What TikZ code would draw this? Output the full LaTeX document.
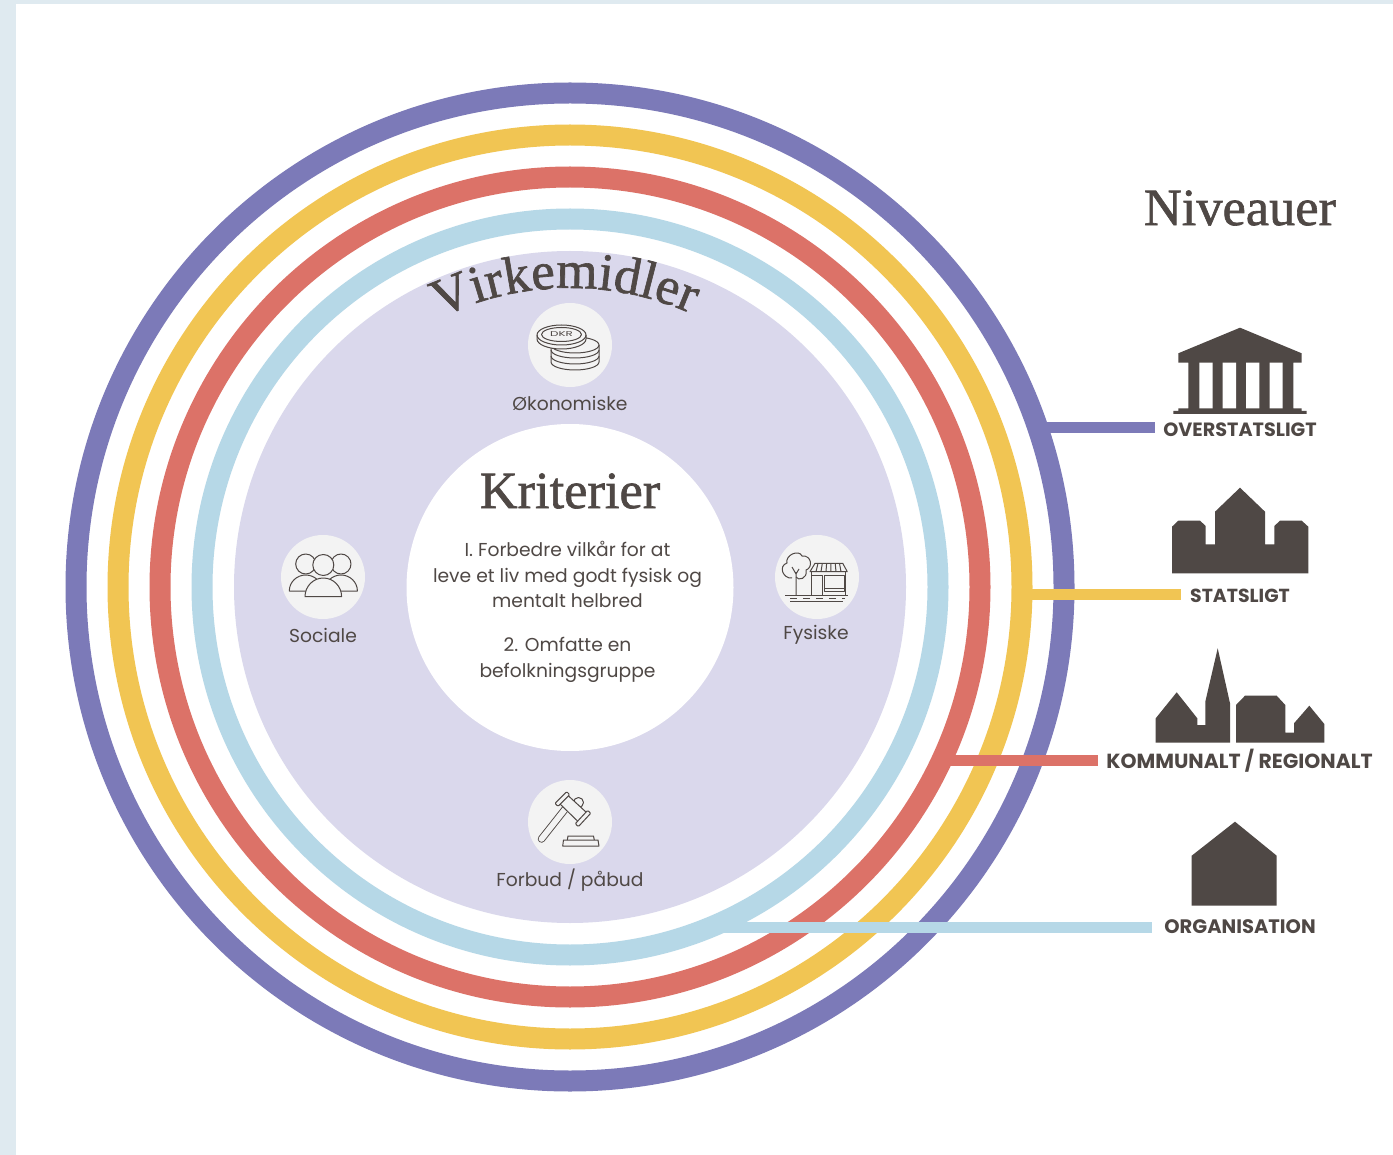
\documentclass[tikz,border=0pt]{standalone}
\usepackage{fontspec}
\setmainfont{Poppins}
\newfontfamily\serifd[FakeBold=1.2]{Liberation Serif}
\usetikzlibrary{decorations.text}
\definecolor{cpurple}{HTML}{7C7AB8}
\definecolor{cyellow}{HTML}{F1C553}
\definecolor{cred}{HTML}{DC7268}
\definecolor{cblue}{HTML}{B6D8E7}
\definecolor{clav}{HTML}{DAD8EC}
\definecolor{cdark}{HTML}{4F4845}
\definecolor{cstrip}{HTML}{DFEAF0}
\definecolor{cicon}{HTML}{F3F3F3}
\newcommand{\bodysize}{\fontsize{18.7}{25.5}\selectfont}
\tikzset{
  ringline/.style={line width=21pt},
  conn/.style={line width=11pt},
  body/.style={text=cdark,font=\bodysize,align=center,inner sep=0pt},
  lvl/.style={text=cdark,inner ysep=0pt,inner xsep=8pt},
  disp/.style={text=cdark,inner sep=0pt},
  iconbg/.style={circle,fill=cicon,minimum size=84pt,inner sep=0pt},
  ico/.style={draw=cdark,line width=1pt,line join=round},
  bld/.style={fill=cdark,draw=none},
}
\begin{document}
\begin{tikzpicture}[x=1pt,y=-1pt]
\useasboundingbox (0,0) rectangle (1393,1155);
\fill[white] (0,0) rectangle (1393,1155);
\fill[cstrip] (0,0) rectangle (1393,4);
\fill[cstrip] (0,0) rectangle (16,1155);
% rings
\coordinate (c) at (570,587);
\draw[ringline,cpurple] (c) circle (494);
\draw[ringline,cyellow] (c) circle (452);
\draw[ringline,cred] (c) circle (410);
\draw[ringline,cblue] (c) circle (368);
\fill[clav] (c) circle (336);
\node[circle,fill=white,minimum size=327pt,inner sep=0pt] (centre) at (570,587.5) {};
% level labels
\node[lvl,font=\fontsize{19.2}{24}\selectfont\bfseries] (lO) at (1240,430) {OVERSTATSLIGT};
\node[lvl,inner xsep=9pt,font=\fontsize{18.9}{24}\selectfont\bfseries] (lS) at (1240,595.5) {STATSLIGT};
\node[lvl,font=\fontsize{20.4}{24}\selectfont\bfseries] (lK) at (1239.5,761) {KOMMUNALT / REGIONALT};
\node[lvl,inner xsep=12pt,font=\fontsize{19.5}{24}\selectfont\bfseries] (lG) at (1240,927) {ORGANISATION};
% connectors
\coordinate (sO) at (1040,428);
\coordinate (sS) at (1022,594);
\coordinate (sK) at (945,760);
\coordinate (sG) at (712,927);
\draw[conn,cpurple] (sO) -- (sO -| lO.west);
\draw[conn,cyellow] (sS) -- (sS -| lS.west);
\draw[conn,cred] (sK) -- (sK -| lK.west);
\draw[conn,cblue] (sG) -- (sG -| lG.west);
% titles
\node[disp,font=\serifd\fontsize{52.4}{52}\selectfont] (niv) at (1240,208) {Niveauer};
\node[disp,font=\serifd\fontsize{52.4}{52}\selectfont] (kri) at (570,491) {Kriterier};
\path[decorate,decoration={text along path,text align=center,text color=cdark,
  text={|\serifd\fontsize{53}{53}\selectfont|Virkemidler}}]
  (c) ++(-119:299) arc[start angle=-119,end angle=-63,radius=299];
% centre text
\node[body] (t1) at (567.5,574.5) {I. Forbedre vilkår for at\\leve et liv med godt fysisk og\\mentalt helbred};
\node[body] (t2) at (567.5,660) {2. Omfatte en\\befolkningsgruppe};
% icon backgrounds
\node[iconbg] (iO) at (570,345) {};
\node[iconbg] (iS) at (323,577) {};
\node[iconbg] (iF) at (817,577) {};
\node[iconbg] (iB) at (570,822) {};
\node[body] (nO) at (570,403) {Økonomiske};
\node[body] (nS) at (323,635.5) {Sociale};
\node[body] (nF) at (816,635) {Fysiske};
\node[body] (nB) at (570,880.5) {Forbud / påbud};
% coins
\draw[ico,fill=cicon] (551,345) -- (551,362) arc[start angle=180,end angle=0,x radius=24,y radius=8] -- (599,345) arc[start angle=0,end angle=-180,x radius=24,y radius=8] -- cycle;
\foreach \yy in {345,350,356} \draw[ico] (551,\yy) arc[start angle=180,end angle=0,x radius=24,y radius=8];
\draw[ico,fill=cicon] (537,335) -- (537,339) arc[start angle=180,end angle=0,x radius=24.5,y radius=10] -- (586,335) arc[start angle=0,end angle=-180,x radius=24.5,y radius=10] -- cycle;
\draw[ico] (537,335) arc[start angle=180,end angle=0,x radius=24.5,y radius=10];
\draw[ico] (561.5,334.5) ellipse[x radius=20,y radius=7];
\node[text=cdark,font=\fontsize{7}{7}\selectfont,inner sep=0pt,transform shape,xscale=1.7] (dkr) at (561.5,334.5) {DKR};
% people
\draw[ico] (305.7,564) circle (10) (341,564) circle (10);
\draw[ico,fill=cicon] (289.3,591) arc[start angle=180,end angle=360,x radius=16.4,y radius=16] -- cycle;
\draw[ico,fill=cicon] (324.6,591) arc[start angle=180,end angle=360,x radius=16.4,y radius=16] -- cycle;
\draw[ico,fill=cicon] (323.3,565) circle (10.5);
\draw[ico,fill=cicon] (305,596.7) arc[start angle=180,end angle=360,x radius=18.3,y radius=18.7] -- cycle;
% shop
\draw[ico] (796,595) -- (796,572) (792,567) -- (796,574) -- (799,569);
\draw[ico] (792,578) .. controls (783,579) and (778,566) .. (787,563) .. controls (785,555) and (799,549) .. (802,556) .. controls (812,555) and (813,568) .. (806,570) .. controls (808,579) and (798,581) .. (796,577);
\draw[ico] (785,595) -- (848.3,595);
\draw[ico] (790,601) -- (843,601);
\draw[ico,dash pattern=on 7pt off 6pt] (790,598.2) -- (845,598.2);
\draw[ico] (811.7,571.7) -- (811.7,595) (845,571.7) -- (845,595);
\draw[ico] (810,571.7) -- (815,563.3) -- (842.7,563.3) -- (847.3,571.7) -- cycle;
\foreach \k in {0,1,2,3,4,5} \draw[ico] ({816+\k*5},571.7) -- ({818+\k*4.3},563.3);
\draw[ico] (811.7,575) rectangle (822.7,595);
\draw[ico] (824.5,575) rectangle (844.3,591);
\draw[ico] (824.5,588) -- (844.3,588);
% gavel
\draw[ico,fill=cicon] (578.5,802.5) circle (5);
\draw[cdark,line width=7.5pt,line cap=round] (566,808) -- (541.5,839);
\draw[cicon,line width=5.7pt,line cap=round] (566,808) -- (541.5,839);
\draw[ico,fill=cicon] (559.5,803.5) -- (568,795.5) -- (586.5,812.5) -- (578,821.5) -- cycle;
\draw[ico,fill=cicon,rounded corners=1pt] (555,803.3) -- (566.7,791.7) -- (569.7,794.7) -- (558,806.3) -- cycle;
\draw[ico,fill=cicon,rounded corners=1pt] (575.3,823.7) -- (587.7,810.3) -- (590.7,813.3) -- (578.3,826.7) -- cycle;
\draw[ico] (567.3,840) -- (568,836) -- (593.5,836) -- (594.3,840);
\draw[ico] (562.7,846) -- (563.5,840) -- (598,840) -- (599,846) -- cycle;
% temple
\fill[bld] (1240,327.7) -- (1301.7,353.3) -- (1301.7,362.7) -- (1293.3,362.7) -- (1293.3,408.3) -- (1301.7,408.3) -- (1301.7,411) -- (1306.7,411) -- (1306.7,414) -- (1173.3,414) -- (1173.3,411) -- (1178.3,411) -- (1178.3,408.3) -- (1188.3,408.3) -- (1188.3,362.7) -- (1178.3,362.7) -- (1178.3,353.3) -- cycle;
\fill[white] (1199.3,362.7) rectangle (1212.7,408.3) (1222.7,362.7) rectangle (1236,408.3) (1246,362.7) rectangle (1259.3,408.3) (1269.7,362.7) rectangle (1282.7,408.3);
% state
\fill[bld] (1240,487.7) -- (1265,511.7) -- (1265,544.3) -- (1274.3,544.3) -- (1274.3,526) -- (1280,520.7) -- (1301.7,520.7) -- (1308.3,526.7) -- (1308.3,573.3) -- (1172,573.3) -- (1172,526.7) -- (1178.3,520.7) -- (1200,520.7) -- (1205.7,526) -- (1205.7,544.3) -- (1215,544.3) -- (1215,511.7) -- cycle;
% municipality
\fill[bld] (1155.7,718.3) -- (1176.7,692.3) -- (1197.3,718.3) -- (1197.3,725) -- (1205.3,725) -- (1205.3,701.7) -- (1217.7,648.3) -- (1230,703.3) -- (1230,742.7) -- (1155.7,742.7) -- cycle;
\fill[bld] (1236,742.7) -- (1236,705) -- (1245,695.7) -- (1276.7,695.7) -- (1285.3,705) -- (1285.3,732.7) -- (1294,732.7) -- (1294,723.3) -- (1309.3,705.7) -- (1324.3,724) -- (1324.3,742.7) -- cycle;
% organisation
\fill[bld] (1235,821.7) -- (1276.7,855.7) -- (1276.7,905.7) -- (1191.7,905.7) -- (1191.7,855.7) -- cycle;
\end{tikzpicture}
\end{document}
